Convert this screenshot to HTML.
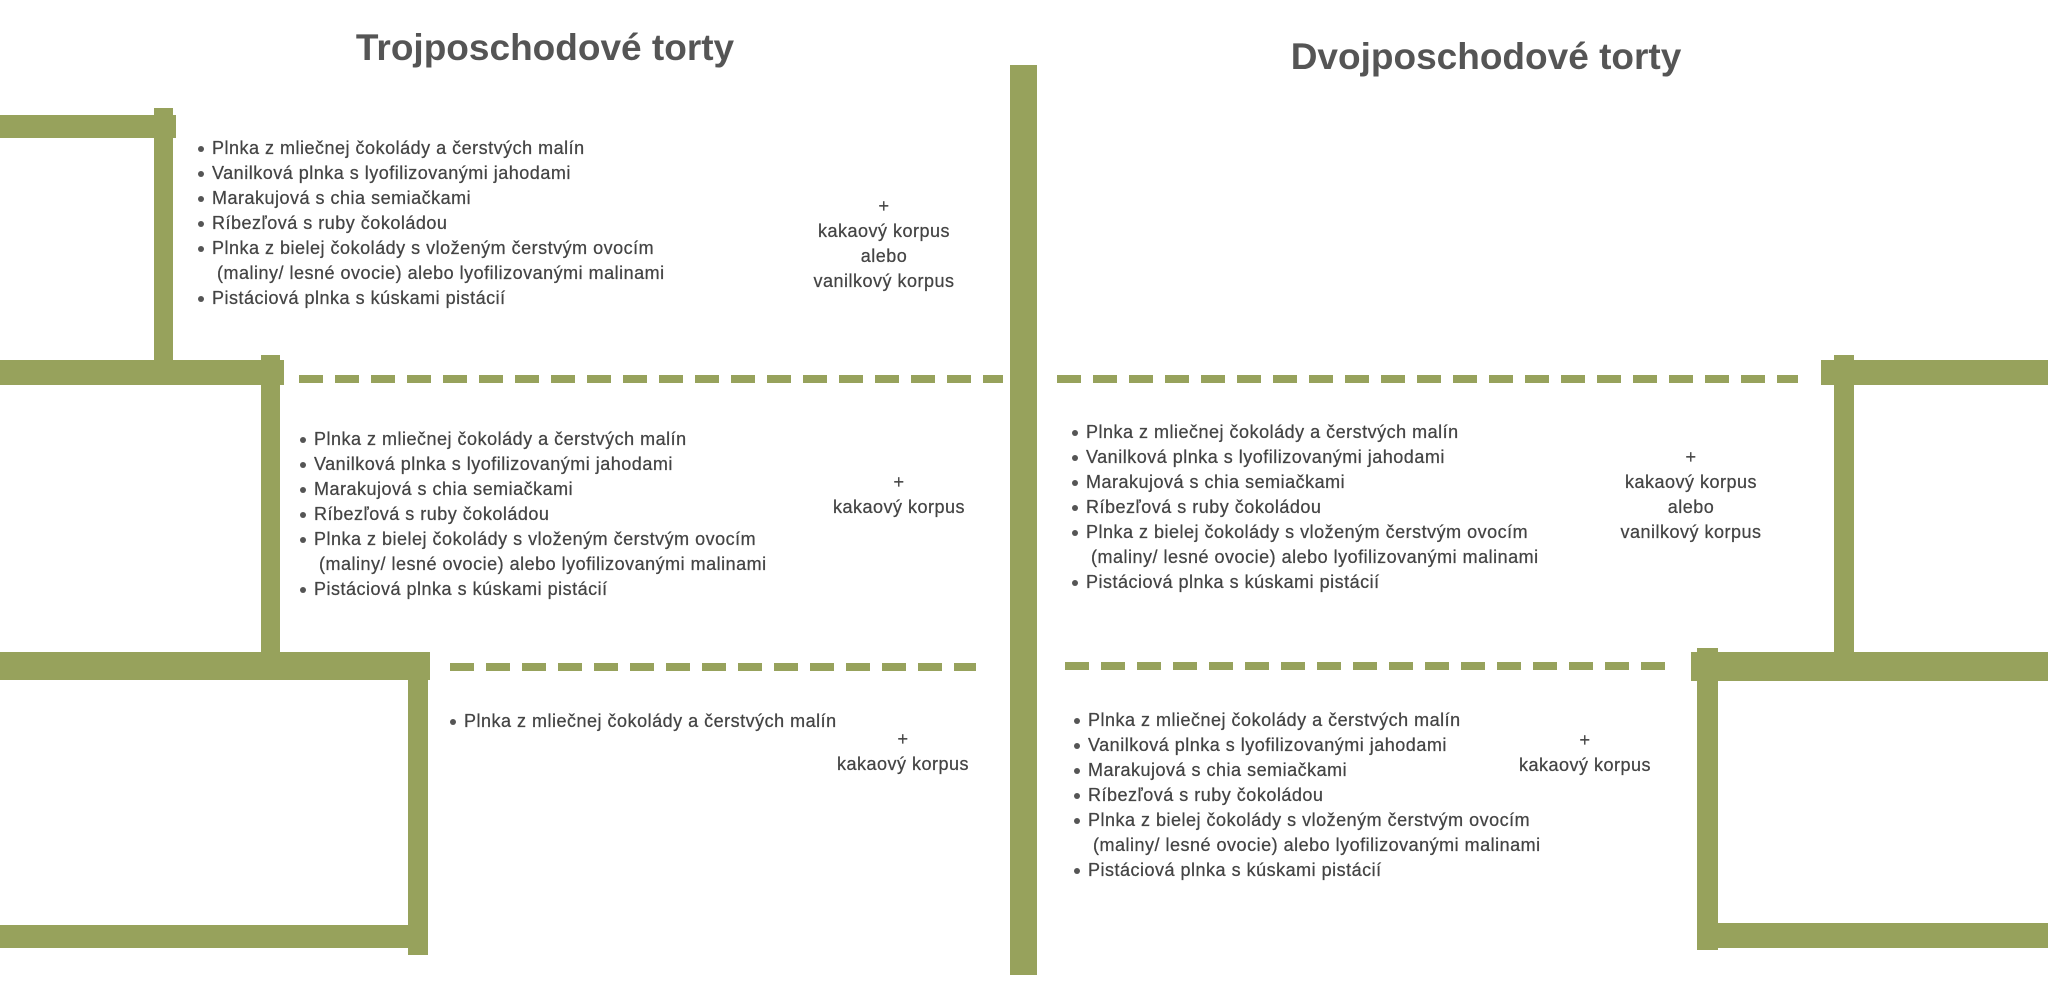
<!DOCTYPE html>
<html><head><meta charset="utf-8">
<style>
html,body{margin:0;padding:0;background:#fff;}
#c{position:relative;width:2048px;height:1003px;overflow:hidden;background:#fff;font-family:"Liberation Sans",sans-serif;}
.g{position:absolute;background:#97a25c;}
.d{position:absolute;height:8px;background:repeating-linear-gradient(90deg,#97a25c 0,#97a25c 24px,transparent 24px,transparent 36px);}
.t{position:absolute;font-weight:bold;color:#555;font-size:37px;white-space:nowrap;transform:translateX(-50%);line-height:44px;}
ul{position:absolute;margin:0;padding:0;list-style:none;font-size:18px;letter-spacing:0.5px;color:#444;line-height:25px;white-space:nowrap;-webkit-text-stroke:0.25px #444;}
ul li{position:relative;padding-left:0;}
ul li:before{content:"";position:absolute;left:-14px;top:10px;width:6px;height:6px;border-radius:50%;background:#555;}
ul li.n:before{display:none;}
ul li.n{padding-left:5px;}
.nt{position:absolute;font-size:18px;letter-spacing:0.5px;color:#444;line-height:25px;text-align:center;white-space:nowrap;transform:translateX(-50%);-webkit-text-stroke:0.25px #444;}
</style></head><body><div id="c">
<div class="t" style="left:545px;top:26px;">Trojposchodové torty</div>
<div class="t" style="left:1486px;top:35px;">Dvojposchodové torty</div>

<div class="g" style="left:1010px;top:65px;width:27px;height:910px;"></div>

<div class="g" style="left:0;top:115px;width:176px;height:23px;"></div>
<div class="g" style="left:154px;top:108px;width:19px;height:252px;"></div>
<div class="g" style="left:0;top:360px;width:284px;height:25px;"></div>
<div class="g" style="left:261px;top:355px;width:19px;height:297px;"></div>
<div class="g" style="left:0;top:652px;width:430px;height:28px;"></div>
<div class="g" style="left:408px;top:655px;width:20px;height:300px;"></div>
<div class="g" style="left:0;top:925px;width:428px;height:23px;"></div>

<div class="g" style="left:1821px;top:360px;width:227px;height:25px;"></div>
<div class="g" style="left:1834px;top:355px;width:20px;height:300px;"></div>
<div class="g" style="left:1691px;top:652px;width:357px;height:29px;"></div>
<div class="g" style="left:1697px;top:648px;width:21px;height:302px;"></div>
<div class="g" style="left:1697px;top:923px;width:351px;height:25px;"></div>

<div class="d" style="left:299px;top:375px;width:704px;"></div>
<div class="d" style="left:450px;top:663px;width:526px;"></div>
<div class="d" style="left:1057px;top:375px;width:741px;"></div>
<div class="d" style="left:1065px;top:662px;width:600px;"></div>

<ul style="left:212px;top:136px;">
<li>Plnka z mliečnej čokolády a čerstvých malín</li>
<li>Vanilková plnka s lyofilizovanými jahodami</li>
<li>Marakujová s chia semiačkami</li>
<li>Ríbezľová s ruby čokoládou</li>
<li>Plnka z bielej čokolády s vloženým čerstvým ovocím</li>
<li class="n">(maliny/ lesné ovocie) alebo lyofilizovanými malinami</li>
<li>Pistáciová plnka s kúskami pistácií</li>
</ul>
<div class="nt" style="left:884px;top:194px;">+<br>kakaový korpus<br>alebo<br>vanilkový korpus</div>

<ul style="left:314px;top:427px;">
<li>Plnka z mliečnej čokolády a čerstvých malín</li>
<li>Vanilková plnka s lyofilizovanými jahodami</li>
<li>Marakujová s chia semiačkami</li>
<li>Ríbezľová s ruby čokoládou</li>
<li>Plnka z bielej čokolády s vloženým čerstvým ovocím</li>
<li class="n">(maliny/ lesné ovocie) alebo lyofilizovanými malinami</li>
<li>Pistáciová plnka s kúskami pistácií</li>
</ul>
<div class="nt" style="left:899px;top:470px;">+<br>kakaový korpus</div>

<ul style="left:464px;top:709px;">
<li>Plnka z mliečnej čokolády a čerstvých malín</li>
</ul>
<div class="nt" style="left:903px;top:727px;">+<br>kakaový korpus</div>

<ul style="left:1086px;top:420px;">
<li>Plnka z mliečnej čokolády a čerstvých malín</li>
<li>Vanilková plnka s lyofilizovanými jahodami</li>
<li>Marakujová s chia semiačkami</li>
<li>Ríbezľová s ruby čokoládou</li>
<li>Plnka z bielej čokolády s vloženým čerstvým ovocím</li>
<li class="n">(maliny/ lesné ovocie) alebo lyofilizovanými malinami</li>
<li>Pistáciová plnka s kúskami pistácií</li>
</ul>
<div class="nt" style="left:1691px;top:445px;">+<br>kakaový korpus<br>alebo<br>vanilkový korpus</div>

<ul style="left:1088px;top:708px;">
<li>Plnka z mliečnej čokolády a čerstvých malín</li>
<li>Vanilková plnka s lyofilizovanými jahodami</li>
<li>Marakujová s chia semiačkami</li>
<li>Ríbezľová s ruby čokoládou</li>
<li>Plnka z bielej čokolády s vloženým čerstvým ovocím</li>
<li class="n">(maliny/ lesné ovocie) alebo lyofilizovanými malinami</li>
<li>Pistáciová plnka s kúskami pistácií</li>
</ul>
<div class="nt" style="left:1585px;top:728px;">+<br>kakaový korpus</div>
</div></body></html>
